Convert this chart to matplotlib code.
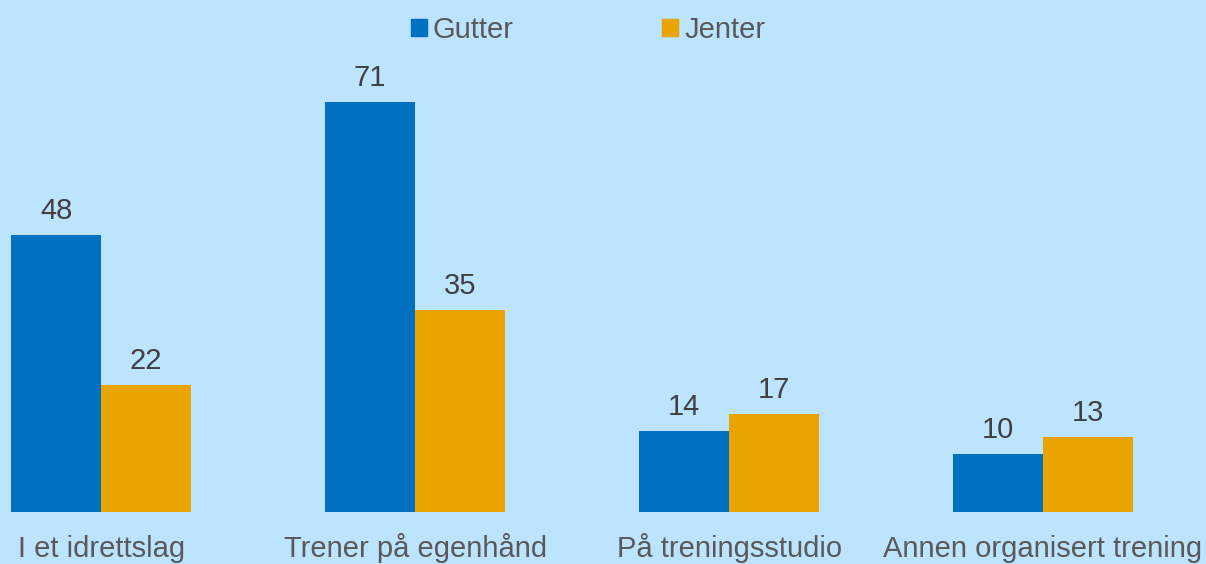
import numpy as np
import matplotlib.pyplot as plt
from matplotlib.patches import Patch

# Andel som trener, etter kjønn
categories = ['I et idrettslag', 'Trener på egenhånd', 'På treningsstudio', 'Annen organisert trening']
gutter = [48, 71, 14, 10]
jenter = [22, 35, 17, 13]

bg = '#BDE4FE'
blue = '#0070C0'
orange = '#E9A400'

plt.rcParams['font.family'] = ['Liberation Sans', 'DejaVu Sans']

fig = plt.figure(figsize=(12.06, 5.64), dpi=100, facecolor=bg)
ax = fig.add_axes([0, 52 / 564, 1, 460 / 564])
ax.set_facecolor(bg)

x = np.arange(len(categories))
w = 0.2866
b1 = ax.bar(x - w / 2, gutter, w, color=blue)
b2 = ax.bar(x + w / 2, jenter, w, color=orange)

for bars in (b1, b2):
    for rect in bars:
        ax.annotate(f'{rect.get_height():.0f}',
                    (rect.get_x() + rect.get_width() / 2, rect.get_height()),
                    xytext=(0, 11.5), textcoords='offset points',
                    ha='center', va='baseline', fontsize=21, color='#404040')

ax.set_xlim(-0.322, 3.519)
ax.set_ylim(0, 79.6)
ax.set_xticks(x)
ax.set_xticklabels(categories, fontsize=21, color='#595959')
ax.tick_params(axis='x', length=0, pad=32.4)
for lbl in ax.get_xticklabels():
    lbl.set_va('baseline')
ax.set_yticks([])
for s in ax.spines.values():
    s.set_visible(False)

handles = [Patch(color=blue, label='Gutter'), Patch(color=orange, label='Jenter')]
fig.legend(handles=handles, loc='center', bbox_to_anchor=(588 / 1206, 1 - 30 / 564),
           ncol=2, frameon=False, fontsize=21, labelcolor='#595959',
           handlelength=0.55, handleheight=0.55, handletextpad=0.2,
           columnspacing=5.1, borderpad=0, borderaxespad=0)

fig.savefig('out.png', dpi=100, facecolor=bg)
